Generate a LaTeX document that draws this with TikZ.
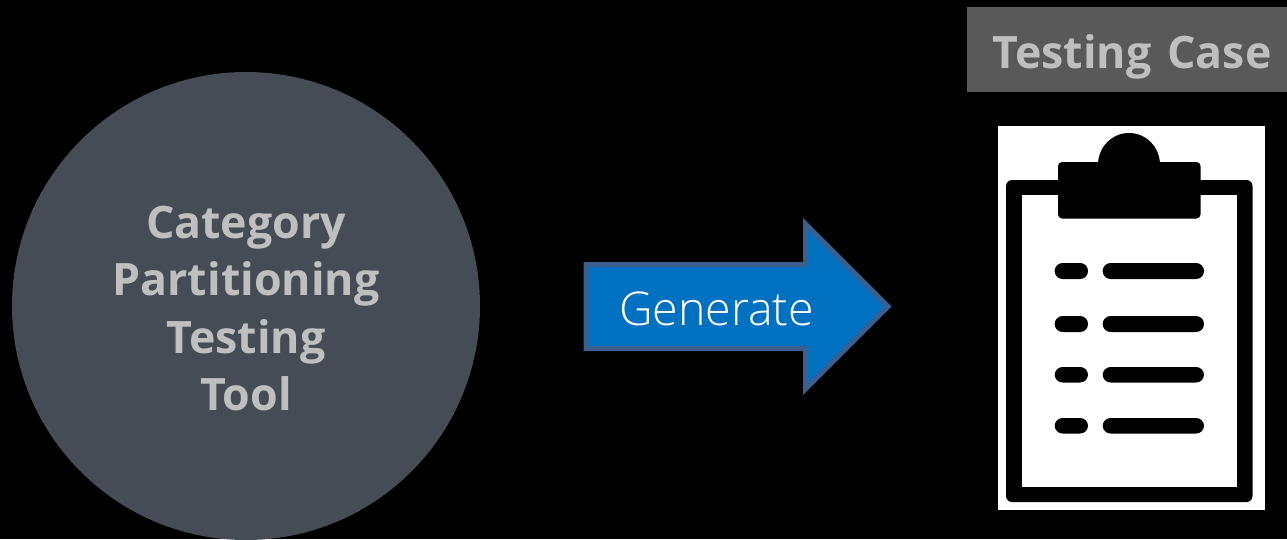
\documentclass[tikz,border=0pt]{standalone}
\usepackage{fontspec}
\setmainfont{Open Sans}
\newfontfamily\lightfont{Open Sans Light}
\definecolor{bg}{HTML}{000000}
\definecolor{disc}{HTML}{464C56}
\definecolor{txtgray}{HTML}{BFBFBF}
\definecolor{hdr}{HTML}{595959}
\definecolor{arrowfill}{HTML}{0070C0}
\definecolor{arrowline}{HTML}{3A5F8F}
\tikzset{
  boldlabel/.style={text=txtgray,font=\bfseries\fontsize{44.7}{57.5}\selectfont,align=center,inner sep=0pt},
  listbar/.style={fill=black,rounded corners=7.9pt},
}
\begin{document}
\begin{tikzpicture}[x=1pt,y=-1pt]
\useasboundingbox (0,0) rectangle (1287,539);
\fill[bg] (0,0) rectangle (1287,539);
\begin{scope}
\clip (0,0) rectangle (1287,539);
\fill[disc] (246,306) circle[radius=234];
\end{scope}
\node[boldlabel] (tool) at (246,308.5) {Category\\Partitioning\\Testing\\Tool};
% arrow
\draw[fill=arrowfill,draw=arrowline,line width=5pt,miter limit=10]
  (586,264.5) -- (805.5,264.5) -- (805.5,224) -- (888,306.5) -- (805.5,389) -- (805.5,348.5) -- (586,348.5) -- cycle;
\node[text=white,font=\fontsize{46.5}{50}\selectfont,inner sep=0pt,anchor=base] (gen) at (716.5,325) {\lightfont Generate};
% header
\fill[hdr] (966.5,7) rectangle (1287,92);
\node[boldlabel,font=\bfseries\fontsize{44.7}{50}\selectfont,anchor=base] (case) at (1132,68) {Testing\hspace{0.1em} Case};
% clipboard
\fill[white] (997.5,126) rectangle (1265,510);
\fill[black,rounded corners=6pt] (1006,180) rectangle (1252.5,502);
\fill[white] (1022,195) rectangle (1237,486.5);
\fill[black] (1098,165) .. controls (1098,147) and (1112,133) .. (1129,133) .. controls (1146,133) and (1160,147) .. (1160,165) -- cycle;
\fill[black,rounded corners=4pt] (1058,162) rectangle (1200.5,218.5);
\foreach \t/\b in {263/279,316/332,367/382.5,418/433.5}{
  \fill[listbar] (1054.7,\t) rectangle (1088,\b);
  \fill[listbar] (1102.7,\t) rectangle (1204,\b);
}
\end{tikzpicture}
\end{document}
